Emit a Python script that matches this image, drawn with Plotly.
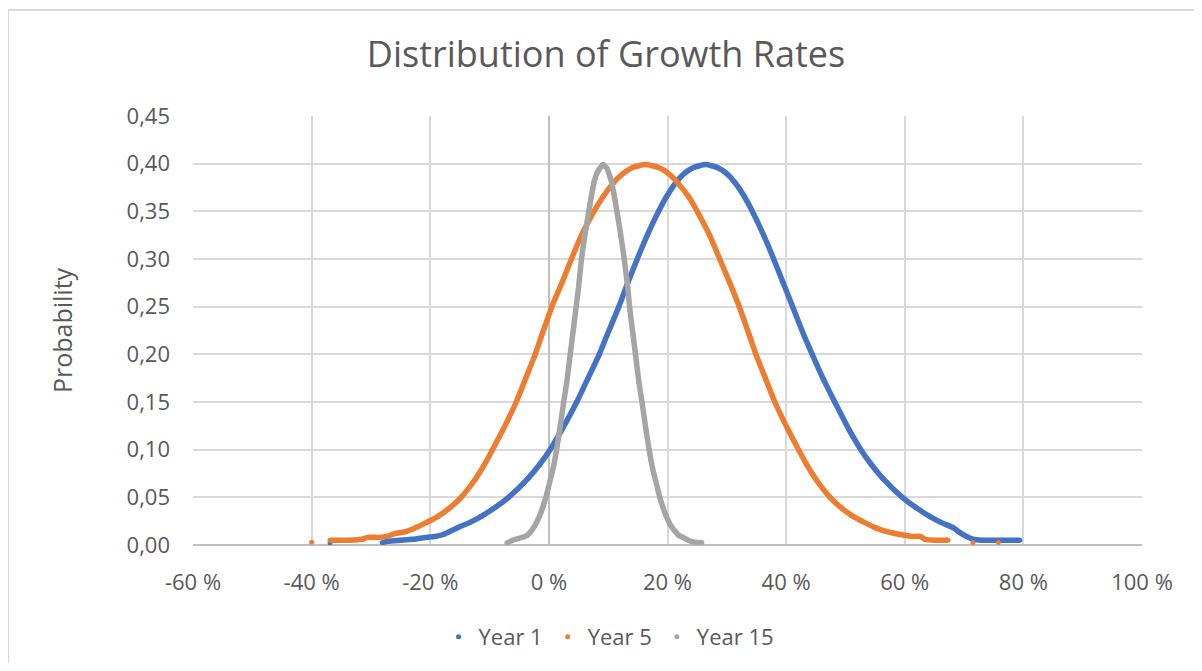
import plotly.graph_objects as go

# ---- data (growth rate, probability) ----
year1_x = [-0.369, -0.281, -0.271, -0.250, -0.230, -0.206, -0.192, -0.178, -0.154, -0.132,
           -0.114, -0.089, -0.068, -0.035, -0.015, 0.002, 0.021, 0.047, 0.066, 0.085,
           0.098, 0.118, 0.133, 0.149, 0.166, 0.185, 0.198, 0.214, 0.229, 0.244,
           0.264, 0.284, 0.299, 0.314, 0.330, 0.343, 0.362, 0.379, 0.395, 0.411,
           0.430, 0.444, 0.462, 0.482, 0.507, 0.526, 0.543, 0.563, 0.596, 0.617,
           0.642, 0.660, 0.682, 0.693, 0.704, 0.715, 0.730, 0.749, 0.765, 0.777,
           0.794]
year1_y = [0.002, 0.0025, 0.004, 0.005, 0.006, 0.008, 0.009, 0.011, 0.018, 0.024,
           0.030, 0.040, 0.050, 0.070, 0.085, 0.100, 0.120, 0.150, 0.175, 0.200,
           0.220, 0.250, 0.275, 0.300, 0.325, 0.350, 0.365, 0.380, 0.390, 0.396,
           0.399, 0.396, 0.390, 0.380, 0.365, 0.350, 0.325, 0.300, 0.275, 0.250,
           0.220, 0.200, 0.175, 0.150, 0.120, 0.100, 0.085, 0.070, 0.050, 0.040,
           0.030, 0.024, 0.018, 0.013, 0.009, 0.006, 0.005, 0.005, 0.005, 0.005,
           0.005]

year5_x = [-0.400, -0.369, -0.357, -0.335, -0.315, -0.305, -0.285, -0.273, -0.260, -0.241,
           -0.225, -0.205, -0.187, -0.165, -0.148, -0.123, -0.108, -0.095, -0.078, -0.055,
           -0.039, -0.023, -0.012, 0.005, 0.022, 0.038, 0.055, 0.076, 0.091, 0.109,
           0.126, 0.141, 0.163, 0.185, 0.201, 0.217, 0.236, 0.250, 0.271, 0.288,
           0.305, 0.321, 0.338, 0.349, 0.365, 0.381, 0.404, 0.421, 0.434, 0.449,
           0.474, 0.491, 0.513, 0.531, 0.551, 0.570, 0.592, 0.614, 0.626, 0.634,
           0.653, 0.673, 0.715, 0.758]
year5_y = [0.003, 0.005, 0.005, 0.005, 0.006, 0.008, 0.008, 0.009, 0.012, 0.014,
           0.018, 0.024, 0.030, 0.040, 0.050, 0.070, 0.085, 0.100, 0.120, 0.150,
           0.175, 0.200, 0.220, 0.250, 0.275, 0.300, 0.325, 0.350, 0.365, 0.380,
           0.390, 0.396, 0.399, 0.396, 0.390, 0.380, 0.365, 0.350, 0.325, 0.300,
           0.275, 0.250, 0.220, 0.200, 0.175, 0.150, 0.120, 0.100, 0.085, 0.070,
           0.050, 0.040, 0.030, 0.024, 0.018, 0.014, 0.011, 0.009, 0.009, 0.006,
           0.005, 0.005, 0.0025, 0.0025]

year15_x = [-0.071, -0.061, -0.037, -0.024, -0.016, -0.010, -0.005, -0.001, 0.007, 0.013,
            0.018, 0.025, 0.030, 0.036, 0.040, 0.046, 0.050, 0.055, 0.062, 0.070,
            0.076, 0.081, 0.091, 0.098, 0.101, 0.106, 0.112, 0.120, 0.127, 0.133,
            0.136, 0.142, 0.146, 0.152, 0.157, 0.164, 0.169, 0.175, 0.183, 0.187,
            0.192, 0.198, 0.206, 0.219, 0.226, 0.241, 0.258]
year15_y = [0.002, 0.005, 0.010, 0.020, 0.030, 0.040, 0.050, 0.060, 0.080, 0.100,
            0.120, 0.150, 0.170, 0.200, 0.220, 0.250, 0.270, 0.300, 0.330, 0.360,
            0.380, 0.390, 0.399, 0.395, 0.390, 0.380, 0.360, 0.330, 0.300, 0.270,
            0.250, 0.220, 0.200, 0.170, 0.150, 0.120, 0.100, 0.080, 0.060, 0.050,
            0.040, 0.030, 0.020, 0.010, 0.008, 0.0035, 0.0025]

series_names = ["Year 1", "Year 5", "Year 15"]
series_colors = ["#4472C4", "#ED7D31", "#A5A5A5"]

x_tick_vals = [-0.6, -0.4, -0.2, 0.0, 0.2, 0.4, 0.6, 0.8, 1.0]
x_tick_text = ["-60 %", "-40 %", "-20 %", "0 %", "20 %", "40 %", "60 %", "80 %", "100 %"]
y_tick_vals = [0.0, 0.05, 0.10, 0.15, 0.20, 0.25, 0.30, 0.35, 0.40, 0.45]
y_tick_text = ["0,00", "0,05", "0,10", "0,15", "0,20", "0,25", "0,30", "0,35", "0,40", "0,45"]

TEXT = "#595959"
GRID = "#D9D9D9"
FONT = "Open Sans"

# page body has an 8px margin: figure is drawn 8px in from the window edge
W, H = 1186, 655
OFF = 8


def broken(xs, ys, gap=0.025, low=0.02):
    """Break the connecting line where sparse tail samples are far apart."""
    bx, by = [], []
    for i, (x, y) in enumerate(zip(xs, ys)):
        if i and (x - xs[i - 1]) > gap and y < low and ys[i - 1] < low:
            bx.append(None)
            by.append(None)
        bx.append(x)
        by.append(y)
    return bx, by


fig = go.Figure()
for name, color, xs, ys in zip(series_names, series_colors,
                               [year1_x, year5_x, year15_x],
                               [year1_y, year5_y, year15_y]):
    lx, ly = broken(xs, ys)
    fig.add_trace(go.Scatter(x=lx, y=ly, mode="lines", legendgroup=name, showlegend=False,
                             line=dict(color=color, width=5.5, shape="spline", smoothing=0.5),
                             connectgaps=False, hoverinfo="skip"))
    fig.add_trace(go.Scatter(x=xs, y=ys, mode="markers", name=name, legendgroup=name,
                             marker=dict(color=color, size=5)))

# plot area in window pixels: x 193..1142, y 116..545
PL, PR, PT, PB = 193, 1142, 116, 545
fig.update_layout(
    width=W, height=H,
    margin=dict(l=PL - OFF, r=W + OFF - PR, t=PT - OFF, b=H + OFF - PB),
    paper_bgcolor="white", plot_bgcolor="white",
    font=dict(family=FONT, color=TEXT, size=22),
    title=dict(text="Distribution of Growth Rates", x=(606 - OFF) / W, xref="container",
               y=1 - (54 - OFF) / H, yref="container", xanchor="center", yanchor="middle",
               font=dict(family=FONT, size=36, color=TEXT)),
    showlegend=True,
    legend=dict(orientation="h", xref="container", yref="container",
                x=(609 - OFF) / W, y=1 - (637 - OFF) / H, xanchor="center", yanchor="middle",
                font=dict(family=FONT, size=22, color=TEXT), bgcolor="rgba(0,0,0,0)"),
    xaxis=dict(range=[-0.6, 1.0], tickvals=x_tick_vals, ticktext=x_tick_text,
               showgrid=True, gridcolor=GRID, gridwidth=1.5,
               zeroline=True, zerolinecolor="#BFBFBF", zerolinewidth=1.5,
               showline=False, ticks="", ticklabelstandoff=22,
               tickfont=dict(family=FONT, size=22, color=TEXT), fixedrange=True),
    yaxis=dict(range=[0, 0.45], tickvals=y_tick_vals, ticktext=y_tick_text,
               showgrid=True, gridcolor=GRID, gridwidth=1.5,
               zeroline=True, zerolinecolor="#BFBFBF", zerolinewidth=1.5,
               showline=False, ticks="", ticklabelstandoff=22,
               tickfont=dict(family=FONT, size=22, color=TEXT),
               title=dict(text="Probability", standoff=46,
                          font=dict(family=FONT, size=25, color=TEXT)),
               fixedrange=True),
    shapes=[dict(type="rect", xref="paper", yref="paper",
                 x0=(8 - PL) / (PR - PL), x1=(1215 - PL) / (PR - PL),
                 y0=(PB - 690) / (PB - PT), y1=(PB - 10) / (PB - PT),
                 line=dict(color=GRID, width=2), fillcolor="rgba(0,0,0,0)", layer="below")],
)

fig.write_html("out.html")
